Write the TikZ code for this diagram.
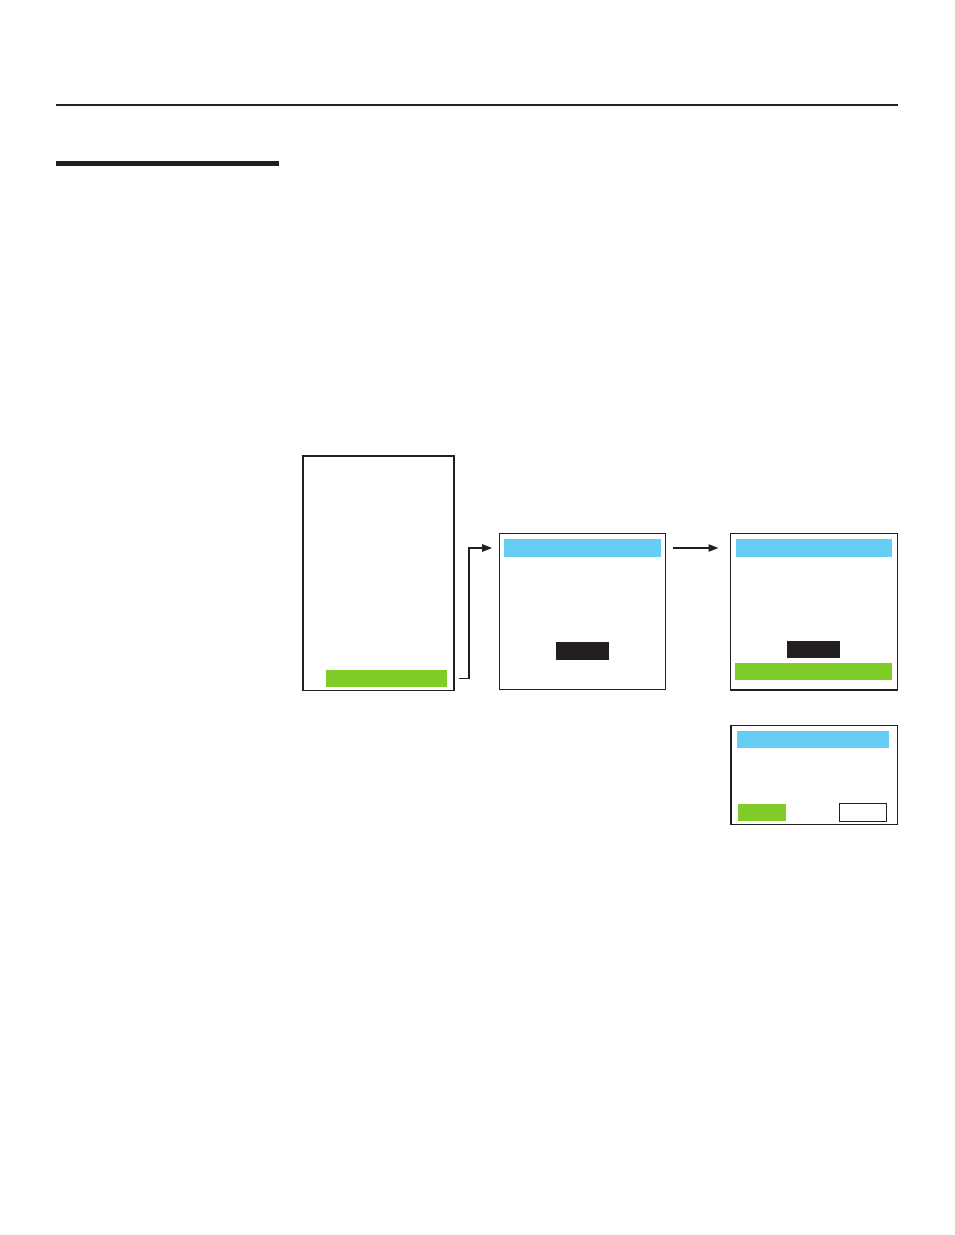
\documentclass[tikz,border=0pt]{standalone}
\usetikzlibrary{arrows.meta,fit}
\definecolor{tinta}{HTML}{231F20}
\definecolor{azul}{HTML}{66CDF5}
\definecolor{verde}{HTML}{80CC28}
\begin{document}
\begin{tikzpicture}[
  x=0.75pt, y=-0.75pt,
  every node/.style={inner sep=0pt, outer sep=0pt},
  tela/.style={draw=tinta, line width=1.25pt},
  titulo/.style={fill=azul},
  botao/.style={fill=verde},
  escuro/.style={fill=tinta},
  vazio/.style={draw=tinta, line width=0.9pt, fill=white},
  seta/.style={draw=tinta, line width=1.1pt, -{Triangle[length=7.5pt,width=5.5pt]}}
]
\useasboundingbox (0,0) rectangle (954,1235);
% cabecalho
\draw[tinta, line width=0.8pt] (56,105) -- (898,105);
\fill[tinta] (56,161) rectangle (279,166);

\node[tela, fit={(303,456) (454,690.5)}] (tela1) {};
\node[botao, fit={(326,670) (447,687)}] (ok1) {};

\node[tela, fit={(499.5,533.5) (665.5,689.5)}] (tela2) {};
\node[titulo, fit={(504,539) (661,557)}] (titulo2) {};
\node[escuro, fit={(556,642) (609,660)}] (preto2) {};

\node[tela, fit={(730.5,533.5) (897.5,690)}] (tela3) {};
\node[titulo, fit={(736,539) (892,557)}] (titulo3) {};
\node[escuro, fit={(787,641) (840,658)}] (preto3) {};
\node[botao, fit={(735,663) (892,680)}] (barra3) {};

\node[tela, fit={(731,725.5) (897.5,824.5)}] (tela4) {};
\node[titulo, fit={(737,731) (889,748)}] (titulo4) {};
\node[botao, fit={(738,804) (786,821)}] (sim4) {};
\node[vazio, fit={(839.5,803.5) (886.5,821.5)}] (nao4) {};

\draw[seta, shorten <=3.8pt, shorten >=5.5pt] (tela1.east |- ok1) -- ++(15,0) |- (tela2.west |- titulo2);
\draw[seta, shorten <=5.5pt, shorten >=9pt] (tela2.east |- titulo2) -- (tela3.west |- titulo3);
\end{tikzpicture}
\end{document}
